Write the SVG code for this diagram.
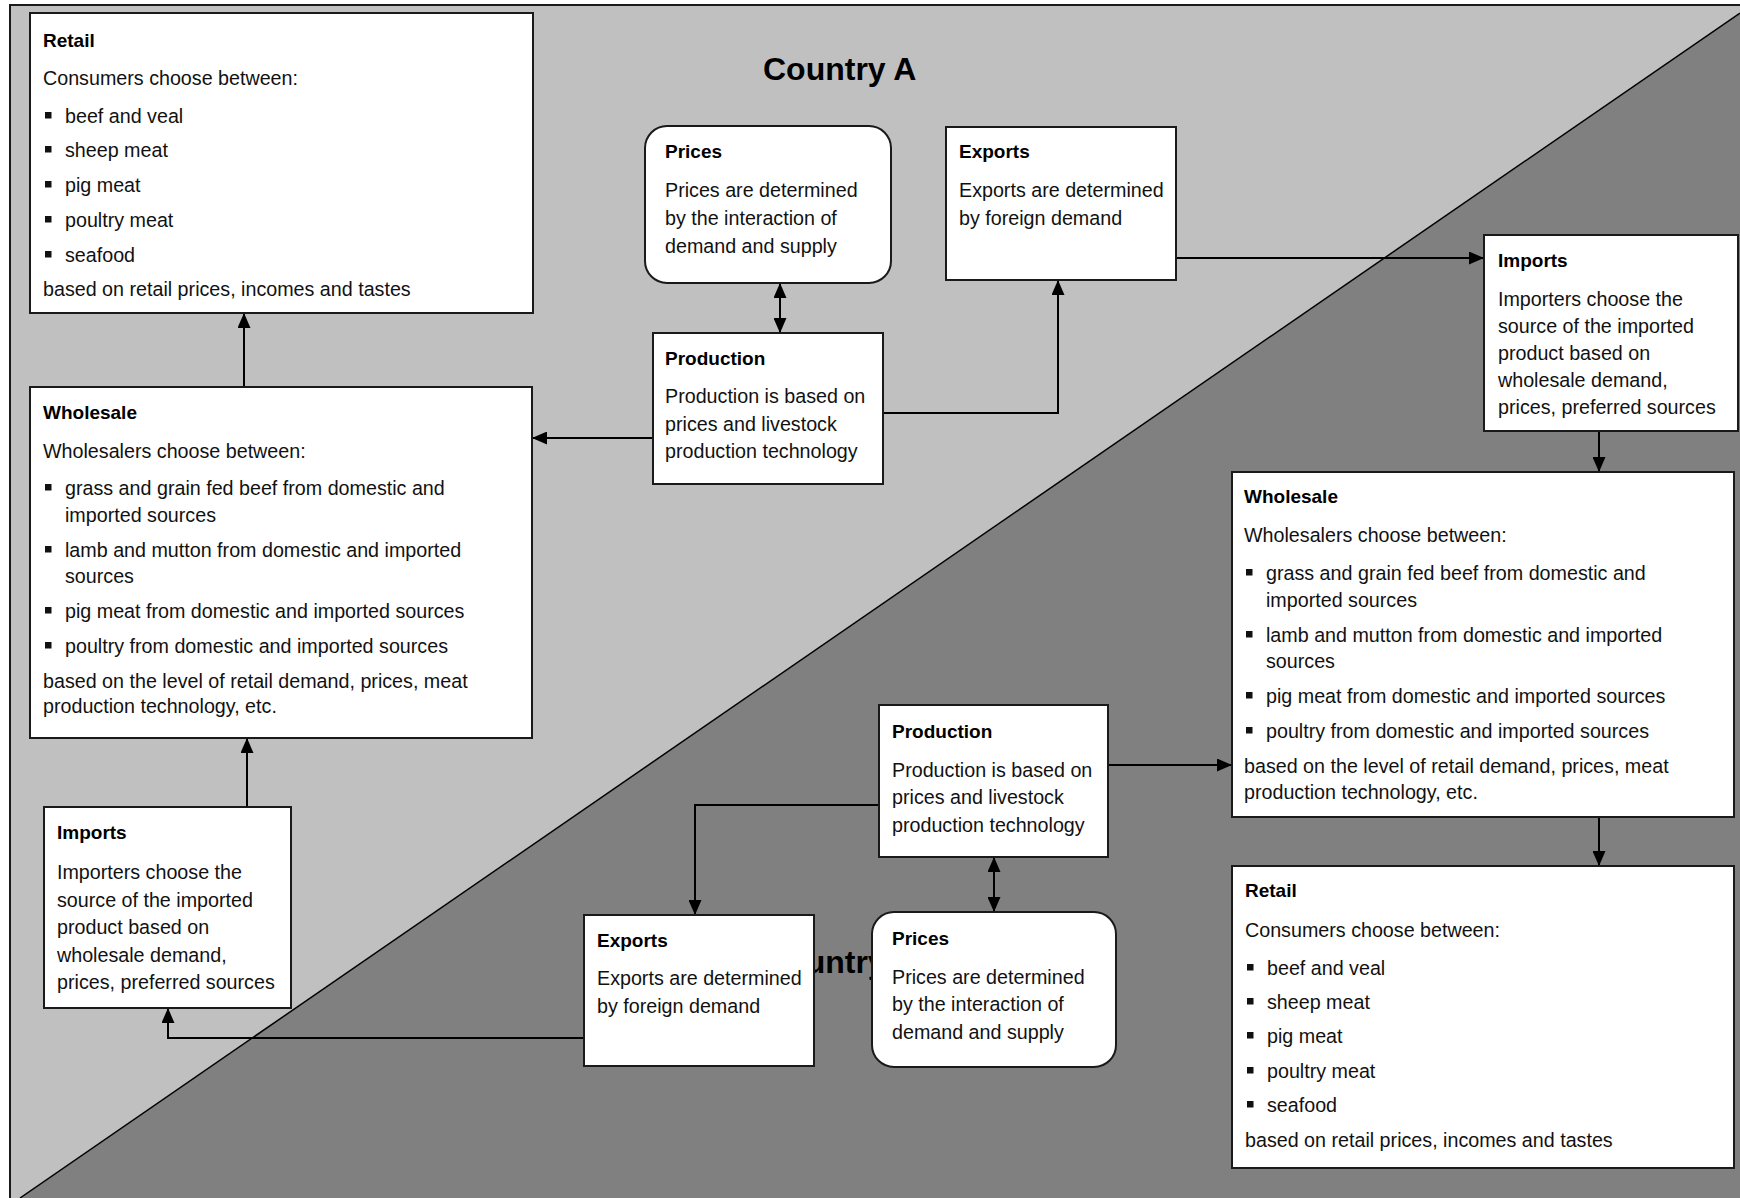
<svg xmlns="http://www.w3.org/2000/svg" width="1740" height="1198" viewBox="0 0 1740 1198">
<style>
.box{fill:#fff;stroke:#1a1a1a;stroke-width:2}
.t{font-family:"Liberation Sans",Arial,sans-serif;font-size:19px;font-weight:bold;fill:#000}
.b{font-family:"Liberation Sans",Arial,sans-serif;font-size:19.7px;fill:#111}
.c{font-family:"Liberation Sans",Arial,sans-serif;font-size:32px;font-weight:bold;fill:#000}
.bul{fill:#111}
.con{fill:none;stroke:#000;stroke-width:2}
</style>
<defs>
<marker id="ah" viewBox="0 0 15 13" refX="15" refY="6.5" markerWidth="15" markerHeight="13" markerUnits="userSpaceOnUse" orient="auto-start-reverse">
<path d="M0,0 L15,6.5 L0,13 z" fill="#000"/>
</marker>
</defs>
<g id="background">
<polygon points="10,5 1740,5 1740,13 20,1198 10,1198" fill="#c0c0c0"/>
<polygon points="1740,13 1740,1198 20,1198" fill="#808080"/>
<line x1="20" y1="1198" x2="1740" y2="13" stroke="#000" stroke-width="1.5"/>
<rect x="10" y="5" width="1740" height="1200" fill="none" stroke="#1a1a1a" stroke-width="2"/>
</g>
<g id="labels">
<text class="c" x="763" y="80">Country A</text>
<text class="c" x="763" y="973">Country B</text>
</g>
<g id="connectors">
<path class="con" d="M244,387 V313" marker-end="url(#ah)"/>
<path class="con" d="M247,807 V738" marker-end="url(#ah)"/>
<path class="con" d="M653,438 H532" marker-end="url(#ah)"/>
<path class="con" d="M780,283 V333" marker-start="url(#ah)" marker-end="url(#ah)"/>
<path class="con" d="M883,413 H1058 V280" marker-end="url(#ah)"/>
<path class="con" d="M1176,258 H1484" marker-end="url(#ah)"/>
<path class="con" d="M1599,431 V472" marker-end="url(#ah)"/>
<path class="con" d="M1599,817 V866" marker-end="url(#ah)"/>
<path class="con" d="M1108,765 H1232" marker-end="url(#ah)"/>
<path class="con" d="M994,857 V912" marker-start="url(#ah)" marker-end="url(#ah)"/>
<path class="con" d="M879,805 H695 V915" marker-end="url(#ah)"/>
<path class="con" d="M584,1038 H168 V1008" marker-end="url(#ah)"/>
</g>
<g id="retail-a">
<rect class="box" x="30" y="13" width="503" height="300"/>
<text class="t" x="43" y="47">Retail</text>
<text class="b" x="43" y="85">Consumers choose between:</text>
<rect class="bul" x="45" y="112" width="6.5" height="6.5"/><text class="b" x="65" y="123">beef and veal</text>
<rect class="bul" x="45" y="146" width="6.5" height="6.5"/><text class="b" x="65" y="157">sheep meat</text>
<rect class="bul" x="45" y="181" width="6.5" height="6.5"/><text class="b" x="65" y="192">pig meat</text>
<rect class="bul" x="45" y="216" width="6.5" height="6.5"/><text class="b" x="65" y="227">poultry meat</text>
<rect class="bul" x="45" y="251" width="6.5" height="6.5"/><text class="b" x="65" y="262">seafood</text>
<text class="b" x="43" y="296">based on retail prices, incomes and tastes</text>
</g>
<g id="wholesale-a">
<rect class="box" x="30" y="387" width="502" height="351"/>
<text class="t" x="43" y="419">Wholesale</text>
<text class="b" x="43" y="458">Wholesalers choose between:</text>
<rect class="bul" x="45" y="484" width="6.5" height="6.5"/><text class="b" x="65" y="495">grass and grain fed beef from domestic and</text>
<text class="b" x="65" y="522">imported sources</text>
<rect class="bul" x="45" y="546" width="6.5" height="6.5"/><text class="b" x="65" y="557">lamb and mutton from domestic and imported</text>
<text class="b" x="65" y="583">sources</text>
<rect class="bul" x="45" y="607" width="6.5" height="6.5"/><text class="b" x="65" y="618">pig meat from domestic and imported sources</text>
<rect class="bul" x="45" y="642" width="6.5" height="6.5"/><text class="b" x="65" y="653">poultry from domestic and imported sources</text>
<text class="b" x="43" y="688">based on the level of retail demand, prices, meat</text>
<text class="b" x="43" y="713">production technology, etc.</text>
</g>
<g id="imports-a">
<rect class="box" x="44" y="807" width="247" height="201"/>
<text class="t" x="57" y="839">Imports</text>
<text class="b" x="57" y="879">Importers choose the</text>
<text class="b" x="57" y="907">source of the imported</text>
<text class="b" x="57" y="934">product based on</text>
<text class="b" x="57" y="962">wholesale demand,</text>
<text class="b" x="57" y="989">prices, preferred sources</text>
</g>
<g id="prices-a">
<rect class="box" x="645" y="126" width="246" height="157" rx="22" ry="22"/>
<text class="t" x="665" y="158">Prices</text>
<text class="b" x="665" y="197">Prices are determined</text>
<text class="b" x="665" y="225">by the interaction of</text>
<text class="b" x="665" y="253">demand and supply</text>
</g>
<g id="exports-a">
<rect class="box" x="946" y="127" width="230" height="153"/>
<text class="t" x="959" y="158">Exports</text>
<text class="b" x="959" y="197">Exports are determined</text>
<text class="b" x="959" y="225">by foreign demand</text>
</g>
<g id="production-a">
<rect class="box" x="653" y="333" width="230" height="151"/>
<text class="t" x="665" y="365">Production</text>
<text class="b" x="665" y="403">Production is based on</text>
<text class="b" x="665" y="431">prices and livestock</text>
<text class="b" x="665" y="458">production technology</text>
</g>
<g id="imports-b">
<rect class="box" x="1484" y="235" width="254" height="196"/>
<text class="t" x="1498" y="267">Imports</text>
<text class="b" x="1498" y="306">Importers choose the</text>
<text class="b" x="1498" y="333">source of the imported</text>
<text class="b" x="1498" y="360">product based on</text>
<text class="b" x="1498" y="387">wholesale demand,</text>
<text class="b" x="1498" y="414">prices, preferred sources</text>
</g>
<g id="wholesale-b">
<rect class="box" x="1232" y="472" width="502" height="345"/>
<text class="t" x="1244" y="503">Wholesale</text>
<text class="b" x="1244" y="542">Wholesalers choose between:</text>
<rect class="bul" x="1246" y="569" width="6.5" height="6.5"/><text class="b" x="1266" y="580">grass and grain fed beef from domestic and</text>
<text class="b" x="1266" y="607">imported sources</text>
<rect class="bul" x="1246" y="631" width="6.5" height="6.5"/><text class="b" x="1266" y="642">lamb and mutton from domestic and imported</text>
<text class="b" x="1266" y="668">sources</text>
<rect class="bul" x="1246" y="692" width="6.5" height="6.5"/><text class="b" x="1266" y="703">pig meat from domestic and imported sources</text>
<rect class="bul" x="1246" y="727" width="6.5" height="6.5"/><text class="b" x="1266" y="738">poultry from domestic and imported sources</text>
<text class="b" x="1244" y="773">based on the level of retail demand, prices, meat</text>
<text class="b" x="1244" y="799">production technology, etc.</text>
</g>
<g id="production-b">
<rect class="box" x="879" y="705" width="229" height="152"/>
<text class="t" x="892" y="738">Production</text>
<text class="b" x="892" y="777">Production is based on</text>
<text class="b" x="892" y="804">prices and livestock</text>
<text class="b" x="892" y="832">production technology</text>
</g>
<g id="retail-b">
<rect class="box" x="1232" y="866" width="502" height="302"/>
<text class="t" x="1245" y="897">Retail</text>
<text class="b" x="1245" y="937">Consumers choose between:</text>
<rect class="bul" x="1247" y="964" width="6.5" height="6.5"/><text class="b" x="1267" y="975">beef and veal</text>
<rect class="bul" x="1247" y="998" width="6.5" height="6.5"/><text class="b" x="1267" y="1009">sheep meat</text>
<rect class="bul" x="1247" y="1032" width="6.5" height="6.5"/><text class="b" x="1267" y="1043">pig meat</text>
<rect class="bul" x="1247" y="1067" width="6.5" height="6.5"/><text class="b" x="1267" y="1078">poultry meat</text>
<rect class="bul" x="1247" y="1101" width="6.5" height="6.5"/><text class="b" x="1267" y="1112">seafood</text>
<text class="b" x="1245" y="1147">based on retail prices, incomes and tastes</text>
</g>
<g id="exports-b">
<rect class="box" x="584" y="915" width="230" height="151"/>
<text class="t" x="597" y="947">Exports</text>
<text class="b" x="597" y="985">Exports are determined</text>
<text class="b" x="597" y="1013">by foreign demand</text>
</g>
<g id="prices-b">
<rect class="box" x="872" y="912" width="244" height="155" rx="22" ry="22"/>
<text class="t" x="892" y="945">Prices</text>
<text class="b" x="892" y="984">Prices are determined</text>
<text class="b" x="892" y="1011">by the interaction of</text>
<text class="b" x="892" y="1039">demand and supply</text>
</g>
</svg>
